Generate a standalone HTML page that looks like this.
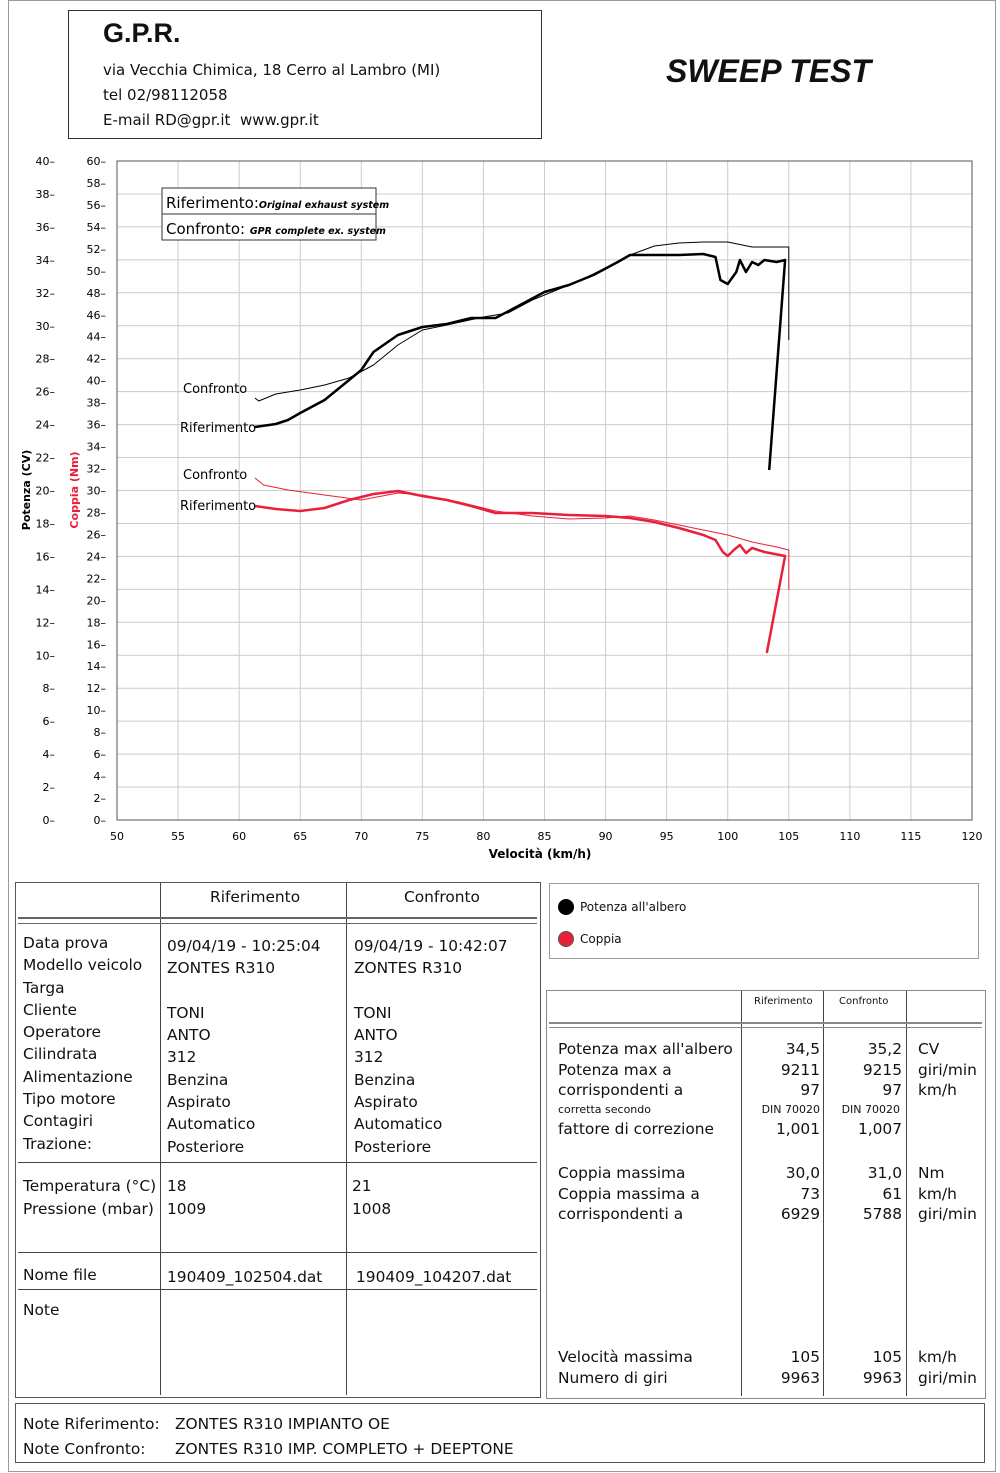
<!DOCTYPE html>
<html><head><meta charset="utf-8"><style>
body{margin:0;background:#fff;width:1000px;height:1473px;position:relative;font-family:"DejaVu Sans","Liberation Sans",sans-serif;color:#111;overflow:hidden}
.a{position:absolute;white-space:nowrap}
.box{position:absolute;border:1px solid #555}
.t{font-size:15.4px}
</style></head><body>
<div class="box" style="left:8px;top:0;width:986px;height:1470px;border-color:#999"></div>
<div class="box" style="left:68px;top:10px;width:472px;height:127px;border-color:#333"></div>
<div class="a" style="left:103px;top:18px;font:bold 27px 'Liberation Sans',sans-serif">G.P.R.</div>
<div class="a" style="left:103px;top:61px;font-size:15px">via Vecchia Chimica, 18 Cerro al Lambro (MI)</div>
<div class="a" style="left:103px;top:86px;font-size:15px">tel 02/98112058</div>
<div class="a" style="left:103px;top:111px;font-size:15px">E-mail RD@gpr.it &nbsp;www.gpr.it</div>
<div class="a" style="left:666px;top:53px;font:italic bold 32px 'Liberation Sans',sans-serif">SWEEP TEST</div>

<svg class="a" style="left:0;top:0" width="1000" height="880" id="ch"></svg>

<!-- left table -->
<div class="box" style="left:15px;top:882px;width:524px;height:514px"></div>
<div class="a" style="left:160px;top:883px;width:1px;height:512px;background:#444"></div>
<div class="a" style="left:346px;top:883px;width:1px;height:512px;background:#444"></div>
<div class="a" style="left:18px;top:917px;width:519px;height:4px;border-top:2px solid #666;border-bottom:1px solid #666"></div>
<div class="a" style="left:18px;top:1162px;width:519px;height:1px;background:#444"></div>
<div class="a" style="left:18px;top:1252px;width:519px;height:1px;background:#444"></div>
<div class="a" style="left:18px;top:1289px;width:519px;height:1px;background:#444"></div>
<div class="a t" style="left:210px;top:888px">Riferimento</div>
<div class="a t" style="left:404px;top:888px">Confronto</div>
<div class="a t" style="left:23px;top:932px;line-height:22.3px">Data prova<br>Modello veicolo<br>Targa<br>Cliente<br>Operatore<br>Cilindrata<br>Alimentazione<br>Tipo motore<br>Contagiri<br>Trazione:</div>
<div class="a t" style="left:167px;top:935px;line-height:22.3px">09/04/19 - 10:25:04<br>ZONTES R310<br><br>TONI<br>ANTO<br>312<br>Benzina<br>Aspirato<br>Automatico<br>Posteriore</div>
<div class="a t" style="left:354px;top:935px;line-height:22.3px">09/04/19 - 10:42:07<br>ZONTES R310<br><br>TONI<br>ANTO<br>312<br>Benzina<br>Aspirato<br>Automatico<br>Posteriore</div>
<div class="a t" style="left:23px;top:1175px;line-height:23px">Temperatura (°C)<br>Pressione (mbar)</div>
<div class="a t" style="left:167px;top:1175px;line-height:23px">18<br>1009</div>
<div class="a t" style="left:352px;top:1175px;line-height:23px">21<br>1008</div>
<div class="a t" style="left:23px;top:1266px">Nome file</div>
<div class="a t" style="left:167px;top:1268px">190409_102504.dat</div>
<div class="a t" style="left:356px;top:1268px">190409_104207.dat</div>
<div class="a t" style="left:23px;top:1301px">Note</div>

<!-- legend -->
<div class="box" style="left:549px;top:883px;width:428px;height:74px;border-color:#999"></div>
<div class="a" style="left:558px;top:899px;width:16px;height:16px;border-radius:50%;background:#000"></div>
<div class="a" style="left:580px;top:900px;font-size:12px">Potenza all'albero</div>
<div class="a" style="left:558px;top:931px;width:16px;height:16px;border-radius:50%;background:#e8203a;box-sizing:border-box;border:1px solid #555"></div>
<div class="a" style="left:580px;top:932px;font-size:12px">Coppia</div>

<!-- right table -->
<div class="box" style="left:546px;top:990px;width:438px;height:407px;border-color:#888"></div>
<div class="a" style="left:741px;top:991px;width:1px;height:405px;background:#444"></div>
<div class="a" style="left:823px;top:991px;width:1px;height:405px;background:#444"></div>
<div class="a" style="left:906px;top:991px;width:1px;height:405px;background:#444"></div>
<div class="a" style="left:549px;top:1022px;width:433px;height:3px;border-top:2px solid #888;border-bottom:1px solid #888"></div>
<div class="a" style="left:754px;top:996px;font-size:10px">Riferimento</div>
<div class="a" style="left:839px;top:996px;font-size:10px">Confronto</div>
<div class="a t" style="left:558px;top:1039px;line-height:20.5px">Potenza max all'albero<br>Potenza max a<br>corrispondenti a</div>
<div class="a" style="left:558px;top:1103px;font-size:11px">corretta secondo</div>
<div class="a t" style="left:558px;top:1120px">fattore di correzione</div>
<div class="a t" style="left:720px;top:1039px;width:100px;text-align:right;line-height:20.5px">34,5<br>9211<br>97</div>
<div class="a" style="left:720px;top:1103px;width:100px;text-align:right;font-size:11px">DIN 70020</div>
<div class="a t" style="left:720px;top:1120px;width:100px;text-align:right">1,001</div>
<div class="a t" style="left:802px;top:1039px;width:100px;text-align:right;line-height:20.5px">35,2<br>9215<br>97</div>
<div class="a" style="left:800px;top:1103px;width:100px;text-align:right;font-size:11px">DIN 70020</div>
<div class="a t" style="left:802px;top:1120px;width:100px;text-align:right">1,007</div>
<div class="a t" style="left:918px;top:1039px;line-height:20.5px">CV<br>giri/min<br>km/h</div>
<div class="a t" style="left:558px;top:1163px;line-height:20.5px">Coppia massima<br>Coppia massima a<br>corrispondenti a</div>
<div class="a t" style="left:720px;top:1163px;width:100px;text-align:right;line-height:20.5px">30,0<br>73<br>6929</div>
<div class="a t" style="left:802px;top:1163px;width:100px;text-align:right;line-height:20.5px">31,0<br>61<br>5788</div>
<div class="a t" style="left:918px;top:1163px;line-height:20.5px">Nm<br>km/h<br>giri/min</div>
<div class="a t" style="left:558px;top:1347px;line-height:20.5px">Velocità massima<br>Numero di giri</div>
<div class="a t" style="left:720px;top:1347px;width:100px;text-align:right;line-height:20.5px">105<br>9963</div>
<div class="a t" style="left:802px;top:1347px;width:100px;text-align:right;line-height:20.5px">105<br>9963</div>
<div class="a t" style="left:918px;top:1347px;line-height:20.5px">km/h<br>giri/min</div>

<!-- notes -->
<div class="box" style="left:15px;top:1403px;width:968px;height:58px"></div>
<div class="a t" style="left:23px;top:1412px;line-height:25px">Note Riferimento:<br>Note Confronto:</div>
<div class="a t" style="left:175px;top:1412px;line-height:25px">ZONTES R310 IMPIANTO OE<br>ZONTES R310 IMP. COMPLETO + DEEPTONE</div>

<script>
var s=document.getElementById('ch'),h='';
var L=117,R=972,T=161,B=820;
function X(v){return L+(v-50)*(R-L)/70}
for(var i=0;i<=20;i++){var y=B-i*(B-T)/20;h+='<line x1="'+L+'" x2="'+R+'" y1="'+y+'" y2="'+y+'" stroke="#ccc"/>';
h+='<text x="55" y="'+(y+4)+'" text-anchor="end" font-size="11">'+(i*2)+'–</text>';}
for(var i=0;i<=30;i++){var y=B-i*(B-T)/30;h+='<text x="106" y="'+(y+4)+'" text-anchor="end" font-size="11">'+(i*2)+'–</text>';}
for(var v=50;v<=120;v+=5){var x=X(v);h+='<line x1="'+x+'" x2="'+x+'" y1="'+T+'" y2="'+B+'" stroke="#ccc"/>';
h+='<text x="'+x+'" y="840" text-anchor="middle" font-size="11">'+v+'</text>';}
h+='<rect x="'+L+'" y="'+T+'" width="'+(R-L)+'" height="'+(B-T)+'" fill="none" stroke="#555"/>';
h+='<text x="540" y="858" text-anchor="middle" font-size="12" font-weight="bold">Velocità (km/h)</text>';
h+='<text transform="translate(30,490) rotate(-90)" text-anchor="middle" font-size="11" font-weight="bold">Potenza (CV)</text>';
h+='<text transform="translate(78,490) rotate(-90)" text-anchor="middle" font-size="11" font-weight="bold" fill="#e8203a">Coppia (Nm)</text>';
function P(a,c,w){var d='';for(var i=0;i<a.length;i+=2)d+=(i?'L':'M')+X(a[i]).toFixed(1)+','+a[i+1];h+='<path d="'+d+'" fill="none" stroke="'+c+'" stroke-width="'+w+'" stroke-linejoin="round"/>';}
P([61.3,427,63,424,64,420,65,413,67,400,69,380,70,370,71,352,73,335,75,327,77,324,79,318,81,318,83,305,85,292,87,285,89,275,91,262,92,255,94,255,96,255,98,254,99,257,99.4,280,100,284,100.7,272,101,260,101.5,272,102,262,102.5,265,103,260,104,262,104.7,260,103.4,470],'#000',2.5);
P([61.3,398,61.6,401,63,394,65,390,67,385,69,378,71,365,73,345,75,330,77,325,80,317,82,313,84,300,86,290,88,280,90,268,92,255,94,246,96,243,98,242,100,242,102,247,104,247,105,247,105,340],'#000',1);
P([61.3,506,63,509,65,511,67,508,69,500,71,494,73,491,75,496,77,500,79,506,81,513,84,513,87,515,90,516,92,518,94,522,96,528,98,535,99,540,99.6,552,100,556,100.5,550,101,545,101.5,553,102,548,103,552,104.7,556,103.2,653],'#e8203a',2.5);
P([61.3,478,62,485,64,490,67,495,70,500,73,493,75,495,78,502,81,511,84,516,87,519,90,518,92,516,94,520,96,525,98,530,100,535,102,542,104,547,105,550,105,590],'#e8203a',1);
h+='<text x="183" y="393" font-size="13">Confronto</text><text x="180" y="432" font-size="13">Riferimento</text>';
h+='<text x="183" y="479" font-size="13">Confronto</text><text x="180" y="510" font-size="13">Riferimento</text>';
h+='<rect x="162" y="188" width="214" height="52" fill="#fff" stroke="#333"/><line x1="162" x2="376" y1="214" y2="214" stroke="#333"/>';
h+='<text x="166" y="208" font-size="15">Riferimento:<tspan font-size="9.5" font-style="italic" font-weight="bold">Original exhaust system</tspan></text>';
h+='<text x="166" y="234" font-size="15">Confronto: <tspan font-size="9.5" font-style="italic" font-weight="bold">GPR complete ex. system</tspan></text>';
s.innerHTML=h;
</script>
</body></html>
